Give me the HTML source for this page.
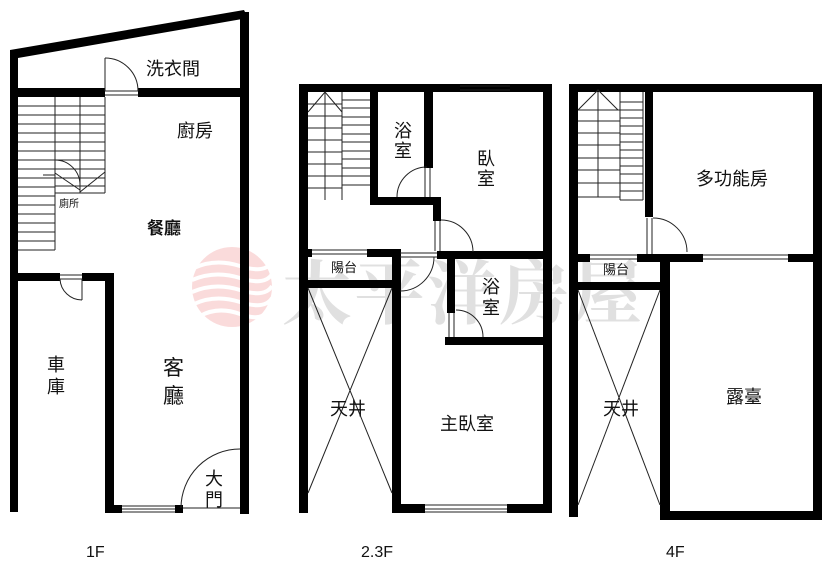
<!DOCTYPE html>
<html><head><meta charset="utf-8"><style>
html,body{margin:0;padding:0;background:#fff;}
svg{display:block;}
text{font-family:"Liberation Sans","Noto Sans CJK TC",sans-serif;fill:#111;}
</style></head><body>
<svg width="830" height="572" viewBox="0 0 830 572" xmlns="http://www.w3.org/2000/svg">
<!-- watermark -->
<g opacity="0.3">
 <circle cx="232" cy="287" r="40" fill="#f08a8a"/>
 <g stroke="#fff" stroke-width="4" fill="none">
  <path d="M194 268 Q215 258 240 266 T272 262"/>
  <path d="M192 280 Q215 270 240 278 T272 274"/>
  <path d="M192 292 Q215 282 240 290 T272 286"/>
  <path d="M194 304 Q215 294 240 302 T272 298"/>
  <path d="M200 316 Q218 306 240 314 T268 310"/>
 </g>
</g>
<text x="282" y="318" font-size="70" font-weight="bold" style="font-family:'Noto Serif CJK SC',serif;fill:#c8c8c8;opacity:0.55" textLength="360">太平洋房屋</text>

<g fill="#000">
<!-- 1F -->
<polygon points="10,50 244,10 248,18 18,58 18,512 10,512"/>
<rect x="240" y="12" width="9" height="502"/>
<rect x="10" y="88" width="95" height="9"/>
<rect x="138" y="88" width="110" height="9"/>
<rect x="10" y="273" width="50" height="8"/>
<rect x="82" y="273" width="32" height="8"/>
<rect x="105" y="273" width="9" height="240"/>
<rect x="105" y="505" width="17" height="8"/>
<rect x="175" y="505" width="8" height="8"/>
<!-- 2.3F -->
<rect x="299" y="84" width="252" height="8"/>
<rect x="299" y="84" width="9" height="429"/>
<rect x="543" y="84" width="9" height="429"/>
<rect x="370" y="92" width="8" height="113"/>
<rect x="370" y="197" width="71" height="8"/>
<rect x="424" y="92" width="9" height="76"/>
<rect x="433" y="197" width="8" height="24"/>
<rect x="437" y="251" width="115" height="8"/>
<rect x="299" y="249" width="13" height="8"/>
<rect x="367" y="249" width="33" height="8"/>
<rect x="299" y="280" width="101" height="8"/>
<rect x="392" y="249" width="9" height="264"/>
<rect x="447" y="259" width="8" height="54"/>
<rect x="445" y="337" width="107" height="8"/>
<rect x="392" y="504" width="33" height="9"/>
<rect x="507" y="504" width="45" height="9"/>
<!-- 4F -->
<rect x="569" y="84" width="253" height="8"/>
<rect x="569" y="84" width="9" height="433"/>
<rect x="813" y="84" width="9" height="436"/>
<rect x="645" y="92" width="8" height="125"/>
<rect x="569" y="254" width="21" height="8"/>
<rect x="637" y="254" width="66" height="8"/>
<rect x="788" y="254" width="34" height="8"/>
<rect x="569" y="282" width="93" height="8"/>
<rect x="660" y="254" width="10" height="266"/>
<rect x="660" y="511" width="162" height="9"/>
</g>

<g fill="none" stroke="#222" stroke-width="1">
<line x1="105" y1="58" x2="105" y2="91"/><path d="M105 58 A33 33 0 0 1 138 91"/>
<line x1="105" y1="91" x2="138" y2="91"/><line x1="105" y1="95" x2="138" y2="95"/>
<line x1="60" y1="275" x2="82" y2="275"/><line x1="60" y1="279" x2="82" y2="279"/>
<line x1="82" y1="279" x2="82" y2="300"/><path d="M60 279 A22 22 0 0 0 82 300"/>
<line x1="122" y1="506" x2="175" y2="506"/><line x1="122" y1="509" x2="175" y2="509"/><line x1="122" y1="512" x2="175" y2="512"/>
<line x1="183" y1="508" x2="240" y2="508"/><path d="M181 508 A59 59 0 0 1 240 449"/>
<line x1="55" y1="97" x2="55" y2="250"/><line x1="18" y1="250" x2="55" y2="250"/>
<line x1="105" y1="97" x2="105" y2="193"/><line x1="80" y1="97" x2="80" y2="193"/>
<line x1="55" y1="193" x2="105" y2="193"/>
<path d="M18 106H55M18 115H55M18 124H55M18 133H55M18 142H55M18 151H55M18 160H55M18 169H55M18 178H55M18 187H55M18 196H55M18 205H55M18 214H55M18 223H55M18 232H55M18 241H55"/>
<path d="M55 106H105M55 115H105M55 124H105M55 133H105M55 142H105M55 151H105M55 160H105M55 169H105M55 178H105M55 186H105"/>
<path d="M55 160 A25 25 0 0 1 80 185"/><line x1="55" y1="173" x2="80" y2="190"/><line x1="80" y1="192" x2="105" y2="172"/><line x1="43" y1="175" x2="55" y2="175"/>
<line x1="325" y1="92" x2="325" y2="200"/><line x1="342" y1="92" x2="342" y2="200"/>
<path d="M308 104H342M308 116H342M308 128H342M308 140H342M308 152H342M308 164H342M308 176H342M308 188H342"/>
<path d="M342 100H370M342 108H370M342 117H370M342 125H370M342 134H370M342 142H370M342 151H370M342 159H370M342 168H370M342 176H370M342 185H370"/>
<path d="M308 112 L325 92 L342 112"/>
<line x1="460" y1="86" x2="510" y2="86"/><line x1="460" y1="90" x2="510" y2="90"/>
<line x1="425" y1="168" x2="425" y2="197"/><line x1="430" y1="168" x2="430" y2="197"/>
<path d="M397 197 A30 30 0 0 1 427 167"/>
<line x1="435" y1="221" x2="435" y2="251"/><line x1="440" y1="221" x2="440" y2="251"/>
<path d="M441 220 A32 32 0 0 1 473 252"/>
<line x1="312" y1="250" x2="367" y2="250"/><line x1="312" y1="254" x2="367" y2="254"/>
<line x1="400" y1="253" x2="437" y2="253"/><line x1="400" y1="257" x2="437" y2="257"/>
<path d="M434 257 A34 34 0 0 1 400 291"/>
<line x1="449" y1="313" x2="449" y2="337"/><line x1="454" y1="313" x2="454" y2="337"/>
<path d="M456 310 A27 27 0 0 1 483 337"/>
<line x1="425" y1="505" x2="507" y2="505"/><line x1="425" y1="509" x2="507" y2="509"/><line x1="425" y1="512" x2="507" y2="512"/>
<line x1="308" y1="288" x2="392" y2="493"/><line x1="392" y1="288" x2="308" y2="493"/>
<line x1="598" y1="92" x2="598" y2="197"/><line x1="620" y1="92" x2="620" y2="200"/><line x1="643" y1="92" x2="643" y2="200"/>
<line x1="578" y1="197" x2="620" y2="197"/><line x1="620" y1="200" x2="643" y2="200"/>
<path d="M578 110H620M578 121H620M578 133H620M578 145H620M578 158H620M578 170H620M578 183H620"/>
<path d="M620 102H643M620 110H643M620 118H643M620 126H643M620 134H643M620 142H643M620 150H643M620 158H643M620 166H643M620 174H643M620 183H643M620 191H643"/>
<path d="M578 110 L598 90 L618 110"/>
<line x1="647" y1="218" x2="647" y2="254"/><line x1="652" y1="218" x2="652" y2="254"/>
<path d="M653 218 A34 34 0 0 1 687 252"/>
<line x1="590" y1="255" x2="637" y2="255"/><line x1="590" y1="259" x2="637" y2="259"/>
<line x1="703" y1="255" x2="788" y2="255"/><line x1="703" y1="259" x2="788" y2="259"/>
<line x1="578" y1="290" x2="660" y2="505"/><line x1="660" y1="290" x2="578" y2="505"/>
</g>

<g font-size="18">
<text x="146" y="75">洗衣間</text>
<text x="177" y="137">廚房</text>
<text x="147" y="234" font-weight="bold" font-size="17">餐廳</text>
<text x="59" y="207" font-size="10">廁所</text>
<text x="47" y="371">車</text><text x="47" y="393">庫</text>
<text x="163" y="375" font-size="21">客</text><text x="163" y="403" font-size="21">廳</text>
<text x="205" y="485">大</text><text x="205" y="506">門</text>
<text x="394" y="137">浴</text><text x="394" y="157">室</text>
<text x="477" y="165">臥</text><text x="477" y="185">室</text>
<text x="331" y="272" font-size="13">陽台</text>
<text x="482" y="293">浴</text><text x="482" y="314">室</text>
<text x="330" y="415">天井</text>
<text x="440" y="430">主臥室</text>
<text x="696" y="185">多功能房</text>
<text x="603" y="274" font-size="13">陽台</text>
<text x="603" y="415">天井</text>
<text x="726" y="403">露臺</text>
<text x="86" y="557" font-size="16">1F</text>
<text x="361" y="557" font-size="16">2.3F</text>
<text x="666" y="557" font-size="16">4F</text>
</g>
</svg>
</body></html>
